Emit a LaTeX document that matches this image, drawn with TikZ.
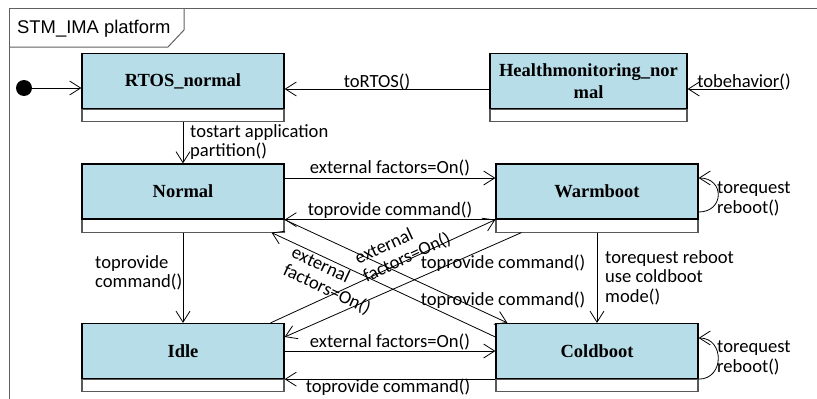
\documentclass[tikz,border=0pt]{standalone}
\usepackage{fontspec}
\setmainfont{Liberation Serif}
\newfontfamily\labfont{Carlito}
\newfontfamily\titlefont{Liberation Sans}
\usetikzlibrary{arrows.meta,calc}
\definecolor{stfill}{RGB}{183,221,232}
\definecolor{framegray}{RGB}{95,95,95}
\begin{document}
\begin{tikzpicture}[x=1pt,y=-1pt,
 stbox/.style={draw=black,line width=1.3pt,fill=stfill,minimum width=202pt,minimum height=55pt,inner sep=0pt,font=\fontsize{18.5}{22}\selectfont\bfseries,align=center},
 compbox/.style={draw=black!65,line width=1.1pt,fill=white,minimum width=202pt,minimum height=12.5pt,inner sep=0pt,anchor=north},
 tr/.style={draw=black,line width=0.8pt,-{Straight Barb[length=11pt,width=14pt,line width=0.8pt]}},
 lbl/.style={font=\labfont\fontsize{18.6}{19.5}\selectfont,inner sep=0pt,align=left},
]
\useasboundingbox (0,0) rectangle (817,399);
% frame
\draw[framegray,line width=1pt] (817,8) -- (9,8) -- (9,399);
\draw[framegray,line width=1pt] (9,47) -- (168,47) -- (184,30) -- (184,8);
\node[font=\titlefont\fontsize{18.4}{20}\selectfont,anchor=base west,inner sep=0pt] (title) at (17,33) {STM\_IMA platform};
% compartments
\node[compbox] (rtosc) at (183,108.5) {};
\node[compbox,minimum width=197pt] (healthc) at (588.5,108.5) {};
\node[compbox] (normalc) at (183,219) {};
\node[compbox] (warmc) at (597,219) {};
\node[compbox] (idlec) at (183,378.5) {};
\node[compbox] (coldc) at (597,378.5) {};
% states
\node[stbox] (rtos) at (183,81) {RTOS\_normal};
\node[stbox,minimum width=197pt] (health) at (588.5,81) {Healthmonitoring\_nor\\mal};
\node[stbox] (normal) at (183,191.5) {Normal};
\node[stbox] (warm) at (597,191.5) {Warmboot};
\node[stbox] (idle) at (183,351) {Idle};
\node[stbox] (cold) at (597,351) {Coldboot};
% initial
\node[circle,fill=black,minimum size=16pt,inner sep=0pt] (dot) at (24,88) {};
\coordinate (tb) at (782,89);
% transitions
\draw[tr] (dot) -- (rtos.west |- dot);
\draw[tr] ([yshift=-8pt]health.west) -- ([yshift=-8pt]rtos.east);
\draw[tr] (tb) -- ([yshift=-8pt]health.east);
\draw[tr] (rtosc.south) -- (normal.north);
\draw[tr] ([yshift=13.5pt]normal.east) -- ([yshift=13.5pt]warm.west);
\draw[tr] (warm.south west) -- (normal.south east);
\draw[tr] (normalc.south) -- (idle.north);
\draw[tr] (idle.east) -- (cold.west);
\draw[tr] (cold.south west) -- (idle.south east);
\draw[tr] (warmc.south) -- (cold.north);
\draw[tr] ([yshift=-20.5pt]warm.east) .. controls +(26,0) and +(26,0) .. ([yshift=13.5pt]warm.east);
\draw[tr] (cold.south east) .. controls +(26,0) and +(26,0) .. ([yshift=13pt]cold.east);
\draw[tr] (normal.south east) -- ([xshift=12pt]cold.north west);
\draw[tr] ([yshift=14pt]cold.west) -- ([xshift=-13pt]normalc.south east);
\draw[tr] ([xshift=-14pt]idle.north east) -- (warm.south west);
\draw[tr] ([xshift=26pt]warmc.south west) -- ([yshift=14pt]idle.east);
% labels
\node[lbl,anchor=base] (l1) at (377,87) {toRTOS()};
\node[lbl,anchor=base] (l2) at (744,87) {tobehavior()};
\node[lbl,anchor=north west] (l3) at (190,124) {tostart application\\partition()};
\node[lbl,anchor=base] (l4) at (390,173) {external factors=On()};
\node[lbl,anchor=base] (l5) at (390,215) {toprovide command()};
\node[lbl,anchor=north west] (l6) at (95,255) {toprovide\\command()};
\node[lbl,rotate=25] (l7) at (403,249) {external\\factors=On()};
\node[lbl,rotate=-25] (l8) at (331,281) {external\\factors=On()};
\node[lbl,anchor=base] (l9) at (503,268) {toprovide command()};
\node[lbl,anchor=base] (l10) at (503,305) {toprovide command()};
\node[lbl,anchor=north west] (l11) at (605,250) {torequest reboot\\use coldboot\\mode()};
\node[lbl,anchor=north west] (l12) at (717,182) {torequest\\reboot()};
\node[lbl,anchor=north west] (l13) at (717,341) {torequest\\reboot()};
\node[lbl,anchor=base] (l14) at (390,347) {external factors=On()};
\node[lbl,anchor=base] (l15) at (388,392) {toprovide command()};
\end{tikzpicture}
\end{document}
